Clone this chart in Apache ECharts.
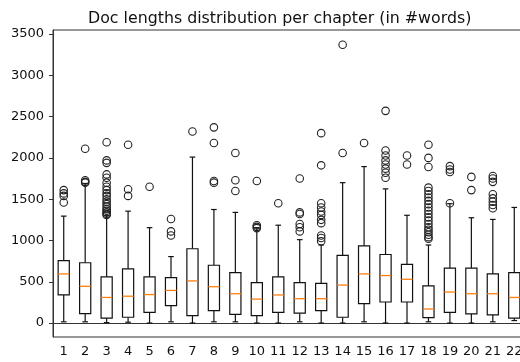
<!DOCTYPE html>
<html>
<head>
<meta charset="utf-8">
<script src="https://cdn.jsdelivr.net/npm/echarts@6/dist/echarts.min.js"></script>
<style>
  html, body { margin: 0; padding: 0; background: #fff; }
  #chart { width: 520px; height: 362px; }
</style>
</head>
<body>
<div id="chart"></div>
<script>
// Chapters on the x axis
const chapters = ['1', '2', '3', '4', '5', '6', '7', '8', '9', '10', '11',
  '12', '13', '14', '15', '16', '17', '18', '19', '20', '21', '22'];

// Box statistics per chapter
const whiskerLow = [15, 15, 5, 10, 0, 15, 0, 15, 15, 0, 0, 15, 0, 0, 15, 0, 0, 15, 0, 0, 15, 30];
const q1 = [340, 115, 60, 70, 130, 210, 90, 150, 105, 90, 130, 120, 150, 70, 235, 255, 255, 65, 130, 110, 100, 60];
const median = [595, 445, 310, 325, 345, 395, 510, 440, 355, 290, 340, 295, 295, 460, 595, 575, 530, 170, 375, 355, 355, 310];
const q3 = [755, 730, 560, 655, 560, 550, 900, 700, 610, 490, 560, 490, 480, 820, 935, 830, 710, 450, 665, 665, 595, 610];
const whiskerHigh = [1295, 1690, 1300, 1355, 1155, 805, 2010, 1375, 1340, 1155, 1185, 1010, 945, 1700, 1895, 1625, 1305, 945, 1445, 1275, 1255, 1400];

// Outliers per chapter
const outliers = [
  [1610, 1570, 1540, 1460],
  [2110, 1730, 1710, 1700],
  [2190, 1970, 1940, 1800, 1760, 1700, 1650, 1610, 1570, 1540, 1500, 1470, 1440, 1410, 1380, 1360, 1340, 1320, 1310],
  [2160, 1620, 1540],
  [1650],
  [1260, 1110, 1060],
  [2320],
  [2370, 2180, 1720, 1700],
  [2060, 1730, 1600],
  [1720, 1185, 1165, 1150],
  [1450],
  [1750, 1340, 1320, 1200, 1160, 1110],
  [2300, 1910, 1450, 1400, 1350, 1310, 1250, 1210, 1060, 1030, 990],
  [3370, 2060],
  [2180],
  [2570, 2090, 2030, 1970, 1920, 1870, 1820, 1760],
  [2030, 1920],
  [2160, 2000, 1890, 1640, 1600, 1560, 1520, 1480, 1440, 1400, 1360, 1320, 1280, 1240, 1200, 1160, 1130, 1100, 1070, 1040, 1020],
  [1900, 1860, 1830, 1450],
  [1770, 1610],
  [1780, 1750, 1710, 1560, 1510, 1470, 1430, 1390],
  []
];

const yTicks = [0, 500, 1000, 1500, 2000, 2500, 3000, 3500];

const boxData = chapters.map((c, i) => [i, whiskerLow[i], q1[i], median[i], q3[i], whiskerHigh[i]]);
const outlierData = [];
outliers.forEach((list, i) => list.forEach(v => outlierData.push([i, v])));

const ink = '#111';
const font = 'DejaVu Sans';

function renderBox(params, api) {
  const x = api.value(0);
  const low = api.coord([x, api.value(1)]);
  const lo = api.coord([x, api.value(2)]);
  const mid = api.coord([x, api.value(3)]);
  const hi = api.coord([x, api.value(4)]);
  const high = api.coord([x, api.value(5)]);
  const band = api.size([1, 0])[0];
  const bw = band * 0.52;
  const cw = band * 0.26;
  const cx = lo[0];
  const line = { stroke: ink, lineWidth: 1.2 };
  return {
    type: 'group',
    children: [
      { type: 'line', shape: { x1: cx, y1: lo[1], x2: cx, y2: low[1] }, style: line },
      { type: 'line', shape: { x1: cx, y1: hi[1], x2: cx, y2: high[1] }, style: line },
      { type: 'line', shape: { x1: cx - cw / 2, y1: low[1], x2: cx + cw / 2, y2: low[1] }, style: line },
      { type: 'line', shape: { x1: cx - cw / 2, y1: high[1], x2: cx + cw / 2, y2: high[1] }, style: line },
      { type: 'rect', shape: { x: cx - bw / 2, y: hi[1], width: bw, height: lo[1] - hi[1] },
        style: { fill: '#fff', stroke: ink, lineWidth: 1.2 } },
      { type: 'line', shape: { x1: cx - bw / 2, y1: mid[1], x2: cx + bw / 2, y2: mid[1] },
        style: { stroke: '#ff7f0e', lineWidth: 1.3 } }
    ]
  };
}

const chart = echarts.init(document.getElementById('chart'));
chart.setOption({
  animation: false,
  backgroundColor: '#fff',
  title: {
    text: 'Doc lengths distribution per chapter (in #words)',
    left: 83,
    top: 6,
    textStyle: { fontFamily: font, fontSize: 15.8, fontWeight: 'normal', color: ink }
  },
  grid: {
    left: 53, width: 472, top: 30, bottom: 25,
    outerBoundsMode: 'none',
    containLabel: false,
    show: true, borderColor: '#333', borderWidth: 1
  },
  xAxis: {
    type: 'category',
    data: chapters,
    boundaryGap: true,
    axisLine: { lineStyle: { color: '#333', width: 1 } },
    axisTick: { alignWithLabel: true, length: 4, lineStyle: { color: '#333' } },
    axisLabel: { interval: 0, margin: 8, fontFamily: font, fontSize: 13, color: ink },
    splitLine: { show: false }
  },
  yAxis: {
    type: 'value',
    min: -169,
    max: 3549,
    axisLine: { show: true, lineStyle: { color: '#333', width: 1 } },
    axisTick: { show: true, length: 4, customValues: yTicks, lineStyle: { color: '#333' } },
    axisLabel: { customValues: yTicks, margin: 9, fontFamily: font, fontSize: 13, color: ink,
      formatter: v => String(v) },
    splitLine: { show: false }
  },
  series: [
    {
      type: 'custom',
      renderItem: renderBox,
      encode: { x: 0, y: [1, 2, 3, 4, 5] },
      data: boxData,
      z: 2
    },
    {
      type: 'scatter',
      data: outlierData,
      symbol: 'circle',
      symbolSize: 7.5,
      itemStyle: { color: 'rgba(0,0,0,0)', borderColor: '#222', borderWidth: 1.1, opacity: 1 },
      z: 3
    }
  ]
});
</script>
</body>
</html>
